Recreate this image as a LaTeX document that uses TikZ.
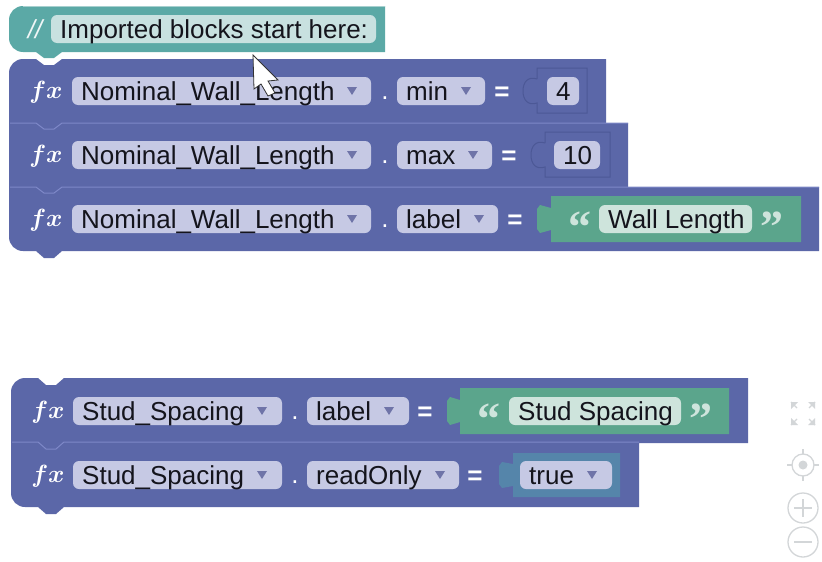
\documentclass[tikz,border=0pt]{standalone}
\usepackage{fontspec}
\setmainfont{Liberation Sans}
\newfontfamily\qfont{Liberation Serif}
\definecolor{blk}{HTML}{5B67A8}
\definecolor{blkhi}{HTML}{7E88C8}
\definecolor{blkdk}{HTML}{4C5896}
\definecolor{fld}{HTML}{C6C9E4}
\definecolor{tealb}{HTML}{5BA9A6}
\definecolor{tealf}{HTML}{C8E1E0}
\definecolor{grn}{HTML}{5BA58C}
\definecolor{grnf}{HTML}{CEE4DC}
\definecolor{boolb}{HTML}{5585AA}
\definecolor{tri}{HTML}{6F74A8}
\definecolor{ctl}{HTML}{D3D6D8}
\definecolor{txt}{HTML}{14141C}
\tikzset{
  x=1pt,y=-1pt,
  fieldtext/.style={anchor=base west,inner sep=0pt,text=txt,font=\fontsize{26}{26}\selectfont},
  sym/.style={inner sep=0pt,text=#1,font=\fontsize{26}{26}\selectfont\bfseries},
  dotmark/.style={inner sep=0pt,text=white,font=\fontsize{26}{26}\selectfont},
  fxtext/.style={inner sep=0pt,text=white,font=\fontsize{28}{28}\selectfont\boldmath},
  quotemark/.style={inner sep=0pt,text=grnf,font=\fontsize{46}{46}\qfont\bfseries},
  ctlline/.style={draw=ctl,line width=1.3pt,fill=none},
}
\newcommand{\fieldbox}[7]{%
  \fill[#7,rounded corners=6pt] (#2,#4) rectangle (#3,#4+28);
  \node[fieldtext] (#1) at (#2+#6,#4+23) {#5};}
\newcommand{\dropmark}[2]{%
  \fill[tri] (#1-5,#2-4) -- (#1+5,#2-4) -- (#1,#2+4) -- cycle;}
\begin{document}
\begin{tikzpicture}
\useasboundingbox (0,0) rectangle (822,562);
\fill[white] (0,0) rectangle (822,562);

% ---------- comment block
\fill[tealb] (385,6) -- (385,52) -- (62,52) -- (54,58) -- (44,58) -- (36,52) -- (23,52)
  arc[start angle=90,end angle=180,radius=14] -- (9,20)
  arc[start angle=180,end angle=270,radius=14] -- cycle;
\draw[tealf!70!tealb,line width=.8pt] (385,6) -- (23,6);
\node[inner sep=0pt,text=white!90!tealb,font=\fontsize{26}{26}\selectfont\itshape] (cslash) at (35,29) {//};
\fieldbox{ctext}{51}{376}{15}{Imported blocks start here:}{9}{tealf}

% ---------- first stack
\fill[blk] (23,59) -- (36,59) -- (44,65) -- (54,65) -- (62,59) -- (606,59) -- (606,123)
  -- (628,123) -- (628,187) -- (819,187) -- (819,251) -- (62,251) -- (54,258) -- (44,258) -- (36,251) -- (23,251)
  arc[start angle=90,end angle=180,radius=14] -- (9,73)
  arc[start angle=180,end angle=270,radius=14] -- cycle;
\draw[blkhi,line width=1pt] (10,123) -- (36,123) -- (44,129) -- (54,129) -- (62,123) -- (628,123);
\draw[blkhi,line width=1pt] (10,187) -- (36,187) -- (44,193) -- (54,193) -- (62,187) -- (819,187);

\node[fxtext] (fx1) at (46,92) {$fx$};
\node[fxtext] (fx2) at (46,156) {$fx$};
\node[fxtext] (fx3) at (46,220) {$fx$};

\fieldbox{n1}{72}{371}{77}{Nominal\_Wall\_Length}{9}{fld}\dropmark{352}{91}
\fieldbox{n2}{72}{371}{141}{Nominal\_Wall\_Length}{9}{fld}\dropmark{352}{155}
\fieldbox{n3}{72}{371}{205}{Nominal\_Wall\_Length}{9}{fld}\dropmark{352}{219}
\node[dotmark] (d1) at (385,98) {.};
\node[dotmark] (d2) at (385,162) {.};
\node[dotmark] (d3) at (385,226) {.};
\fieldbox{p1}{397}{485}{77}{min}{9}{fld}\dropmark{466}{91}
\fieldbox{p2}{397}{492}{141}{max}{9}{fld}\dropmark{473}{155}
\fieldbox{p3}{397}{498}{205}{label}{9}{fld}\dropmark{479}{219}
\node[sym=white] (e1) at (502,94) {=};
\node[sym=white] (e2) at (509,158) {=};
\node[sym=white] (e3) at (515,222) {=};

% number sockets
\draw[blkdk,line width=1pt] (537,79) -- (537,68) -- (587,68) -- (587,113) -- (537,113) -- (537,103)
  .. controls (528,106) and (523,100) .. (523,91) .. controls (523,82) and (528,76) .. (537,79);
\fieldbox{v1}{547}{579}{77}{4}{9}{fld}
\draw[blkdk,line width=1pt] (545,143) -- (545,132) -- (610,132) -- (610,177) -- (545,177) -- (545,167)
  .. controls (536,170) and (531,164) .. (531,155) .. controls (531,146) and (536,140) .. (545,143);
\fieldbox{v2}{554}{600}{141}{10}{9}{fld}

% string block 1
\fill[grn] (551,196) -- (801,196) -- (801,242) -- (551,242) -- (551,230) -- (540,233) -- (537,229)
  -- (537,209) -- (540,205) -- (551,208) -- cycle;
\node[quotemark] (q1) at (580,227) {“};
\fieldbox{s1}{599}{752}{205}{Wall Length}{9}{grnf}
\node[quotemark] (q2) at (772,227) {”};

% ---------- second stack
\fill[blk] (25,378) -- (38,378) -- (46,385) -- (56,385) -- (64,378) -- (748,378) -- (748,443)
  -- (639,443) -- (639,507) -- (64,507) -- (56,514) -- (46,514) -- (38,507) -- (25,507)
  arc[start angle=90,end angle=180,radius=14] -- (11,392)
  arc[start angle=180,end angle=270,radius=14] -- cycle;
\draw[blkhi,line width=1pt] (12,442) -- (38,442) -- (46,449) -- (56,449) -- (64,442) -- (639,442);

\node[fxtext] (fx4) at (48,412) {$fx$};
\node[fxtext] (fx5) at (48,476) {$fx$};

\fieldbox{n4}{73}{282}{397}{Stud\_Spacing}{9}{fld}\dropmark{262}{411}
\fieldbox{n5}{73}{282}{461}{Stud\_Spacing}{9}{fld}\dropmark{262}{475}
\node[dotmark] (d4) at (295,418) {.};
\node[dotmark] (d5) at (295,482) {.};
\fieldbox{p4}{307}{409}{397}{label}{9}{fld}\dropmark{389}{411}
\fieldbox{p5}{307}{459}{461}{readOnly}{9}{fld}\dropmark{440}{475}
\node[sym=white] (e4) at (425,414) {=};
\node[sym=white] (e5) at (475,478) {=};

% string block 2
\fill[grn] (460,388) -- (729,388) -- (729,434) -- (460,434) -- (460,422) -- (450,425) -- (447,421)
  -- (447,401) -- (450,397) -- (460,400) -- cycle;
\node[quotemark] (q3) at (489,419) {“};
\fieldbox{s2}{509}{681}{397}{Stud Spacing}{9}{grnf}
\node[quotemark] (q4) at (701,419) {”};

% boolean block
\fill[boolb] (513,453) -- (620,453) -- (620,497) -- (513,497) -- (513,486) -- (502,488) -- (499,484)
  -- (499,466) -- (502,462) -- (513,464) -- cycle;
\fieldbox{b1}{520}{612}{461}{true}{9}{fld}\dropmark{592}{475}

% ---------- cursor
\fill[white,draw=black!80,line width=.8pt] (253,55) -- (278,80) -- (268,81) -- (275,93) -- (268,96) -- (261,84) -- (254,89) -- cycle;

% ---------- view controls
\begin{scope}[ctlline]
\fill[ctl] (791,402) -- (798,402) -- (791,409) -- cycle;
\fill[ctl] (815,402) -- (808,402) -- (815,409) -- cycle;
\fill[ctl] (791,425) -- (798,425) -- (791,418) -- cycle;
\fill[ctl] (815,425) -- (808,425) -- (815,418) -- cycle;
\draw (791,402) -- (797,408) (815,402) -- (809,408) (791,425) -- (797,419) (815,425) -- (809,419);
\draw (803,465) circle[radius=11];
\draw (803,449) -- (803,454) (803,476) -- (803,481) (787,465) -- (792,465) (814,465) -- (819,465);
\fill[ctl] (803,465) circle[radius=4.5];
\draw (803,508) circle[radius=15];
\draw (794,508) -- (812,508) (803,499) -- (803,517);
\draw (803,542) circle[radius=15];
\draw (794,542) -- (812,542);
\end{scope}
\end{tikzpicture}
\end{document}
